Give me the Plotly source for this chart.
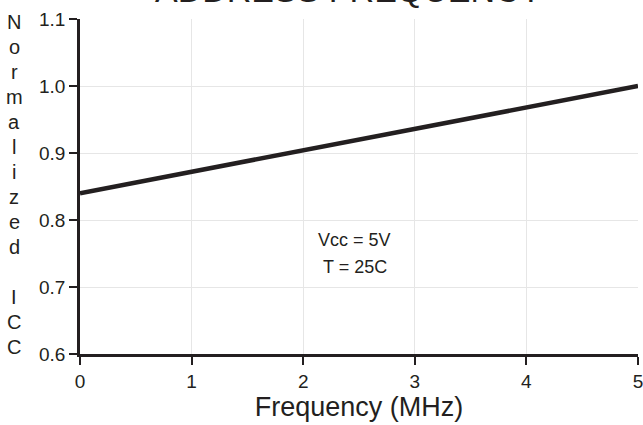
import plotly.graph_objects as go

# Data
freq_mhz = [0, 5]
norm_icc = [0.84, 1.0]
x_ticks = [0, 1, 2, 3, 4, 5]
y_ticks = [0.6, 0.7, 0.8, 0.9, 1.0, 1.1]
y_tick_labels = ["0.6", "0.7", "0.8", "0.9", "1.0", "1.1"]
y_title_letters = ["N", "o", "r", "m", "a", "l", "i", "z", "e", "d", "", "I", "C", "C"]
note_lines = ["Vcc = 5V", "T = 25C"]

INK = "#231f20"
FONT = "Liberation Sans, Arial, Helvetica, sans-serif"

fig = go.Figure()
fig.add_trace(go.Scatter(x=freq_mhz, y=norm_icc, mode="lines",
                         line=dict(color=INK, width=4.5), showlegend=False,
                         hoverinfo="skip"))

W, H = 643, 425
ml, mr, mt, mb = 80, 5, 19, 71
pw = W - ml - mr
ph = H - mt - mb

annotations = []
# stacked y title letters
for i, ch in enumerate(y_title_letters):
    if not ch:
        continue
    ypix = 22 + 25 * i
    annotations.append(dict(
        text=ch, xref="paper", yref="paper",
        x=-(ml - 14) / pw, y=1 - (ypix - mt) / ph,
        xanchor="center", yanchor="middle", showarrow=False,
        font=dict(family=FONT, size=20, color=INK)))

for i, line in enumerate(note_lines):
    ypix = 240 + 27 * i
    annotations.append(dict(text=line, x=2.46, y=1 - (ypix - mt) / ph,
                            xref="x", yref="paper", showarrow=False,
                            xanchor="center", yanchor="middle",
                            font=dict(family=FONT, size=18, color=INK)))

annotations.append(dict(text="ADDRESS FREQUENCY", xref="paper", yref="paper",
                        x=(348 - ml) / pw, y=1 + (mt + 10.5) / ph,
                        xanchor="center", yanchor="middle", showarrow=False,
                        font=dict(family=FONT, size=34, color=INK)))

fig.update_layout(
    width=W, height=H,
    margin=dict(l=ml, r=mr, t=mt, b=mb, autoexpand=False),
    paper_bgcolor="white", plot_bgcolor="white",
    font=dict(family=FONT, color=INK),
    annotations=annotations,
    xaxis=dict(range=[0, 5], tickvals=x_ticks, showgrid=True,
               gridcolor="#e6e6e6", gridwidth=1, zeroline=False,
               showline=True, linecolor=INK, linewidth=2.5,
               ticks="outside", ticklen=8, tickwidth=2, tickcolor=INK,
               ticklabeloverflow="allow", automargin=False,
               tickfont=dict(size=19, family=FONT, color=INK),
               title=dict(text="Frequency (MHz)", font=dict(size=27, family=FONT, color=INK),
                          standoff=6),
               fixedrange=True),
    yaxis=dict(range=[0.6, 1.1], tickvals=y_ticks, ticktext=y_tick_labels,
               showgrid=True, gridcolor="#e6e6e6", gridwidth=1, zeroline=False,
               showline=True, linecolor=INK, linewidth=2.5,
               ticks="outside", ticklen=8, tickwidth=2, tickcolor=INK,
               automargin=False,
               tickfont=dict(size=19, family=FONT, color=INK),
               fixedrange=True),
)
fig.write_html("out.html", config={"displayModeBar": False})
